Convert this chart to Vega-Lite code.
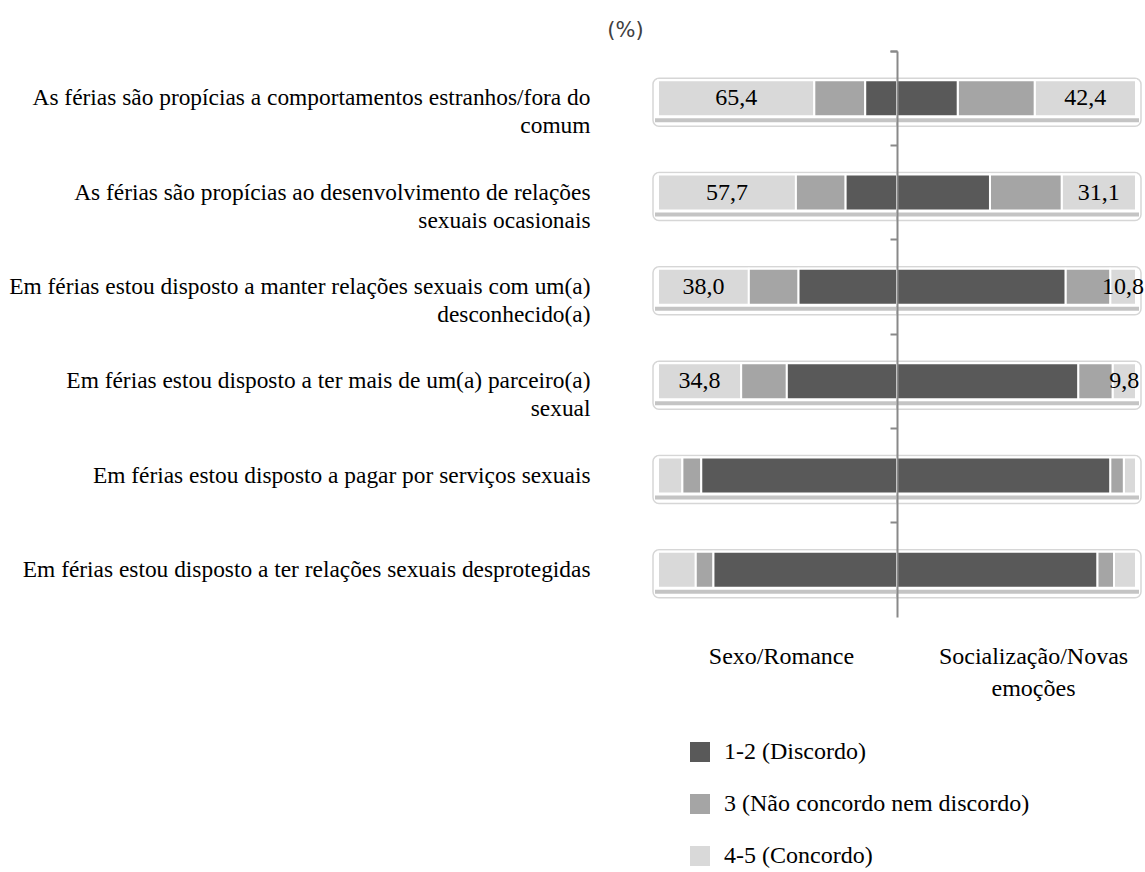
{
  "$schema": "https://vega.github.io/schema/vega-lite/v6.json",
  "background": "white",
  "padding": {"left": 8, "top": 19, "right": 2, "bottom": 0},
  "config": {"view": {"stroke": null}, "font": "Liberation Serif, Times New Roman, serif"},
  "spacing": 0,
  "bounds": "flush",
  "resolve": {"scale": {"x": "independent", "y": "independent"}},
  "data": {"values": [
    {"q": "As férias são propícias a comportamentos estranhos/fora do|comum", "grupo": "S", "resp": "4-5 (Concordo)", "ordem": 3, "pct": 65.4, "rotulo": "65,4"},
    {"q": "As férias são propícias a comportamentos estranhos/fora do|comum", "grupo": "S", "resp": "3 (Não concordo nem discordo)", "ordem": 2, "pct": 21.3, "rotulo": ""},
    {"q": "As férias são propícias a comportamentos estranhos/fora do|comum", "grupo": "S", "resp": "1-2 (Discordo)", "ordem": 1, "pct": 13.3, "rotulo": ""},
    {"q": "As férias são propícias a comportamentos estranhos/fora do|comum", "grupo": "C", "resp": "4-5 (Concordo)", "ordem": 3, "pct": 42.4, "rotulo": "42,4"},
    {"q": "As férias são propícias a comportamentos estranhos/fora do|comum", "grupo": "C", "resp": "3 (Não concordo nem discordo)", "ordem": 2, "pct": 32.2, "rotulo": ""},
    {"q": "As férias são propícias a comportamentos estranhos/fora do|comum", "grupo": "C", "resp": "1-2 (Discordo)", "ordem": 1, "pct": 25.4, "rotulo": ""},
    {"q": "As férias são propícias ao desenvolvimento de relações|sexuais ocasionais", "grupo": "S", "resp": "4-5 (Concordo)", "ordem": 3, "pct": 57.7, "rotulo": "57,7"},
    {"q": "As férias são propícias ao desenvolvimento de relações|sexuais ocasionais", "grupo": "S", "resp": "3 (Não concordo nem discordo)", "ordem": 2, "pct": 20.8, "rotulo": ""},
    {"q": "As férias são propícias ao desenvolvimento de relações|sexuais ocasionais", "grupo": "S", "resp": "1-2 (Discordo)", "ordem": 1, "pct": 21.5, "rotulo": ""},
    {"q": "As férias são propícias ao desenvolvimento de relações|sexuais ocasionais", "grupo": "C", "resp": "4-5 (Concordo)", "ordem": 3, "pct": 31.1, "rotulo": "31,1"},
    {"q": "As férias são propícias ao desenvolvimento de relações|sexuais ocasionais", "grupo": "C", "resp": "3 (Não concordo nem discordo)", "ordem": 2, "pct": 30.0, "rotulo": ""},
    {"q": "As férias são propícias ao desenvolvimento de relações|sexuais ocasionais", "grupo": "C", "resp": "1-2 (Discordo)", "ordem": 1, "pct": 38.9, "rotulo": ""},
    {"q": "Em férias estou disposto a manter relações sexuais com um(a)|desconhecido(a)", "grupo": "S", "resp": "4-5 (Concordo)", "ordem": 3, "pct": 38.0, "rotulo": "38,0"},
    {"q": "Em férias estou disposto a manter relações sexuais com um(a)|desconhecido(a)", "grupo": "S", "resp": "3 (Não concordo nem discordo)", "ordem": 2, "pct": 20.8, "rotulo": ""},
    {"q": "Em férias estou disposto a manter relações sexuais com um(a)|desconhecido(a)", "grupo": "S", "resp": "1-2 (Discordo)", "ordem": 1, "pct": 41.2, "rotulo": ""},
    {"q": "Em férias estou disposto a manter relações sexuais com um(a)|desconhecido(a)", "grupo": "C", "resp": "4-5 (Concordo)", "ordem": 3, "pct": 10.8, "rotulo": "10,8"},
    {"q": "Em férias estou disposto a manter relações sexuais com um(a)|desconhecido(a)", "grupo": "C", "resp": "3 (Não concordo nem discordo)", "ordem": 2, "pct": 18.7, "rotulo": ""},
    {"q": "Em férias estou disposto a manter relações sexuais com um(a)|desconhecido(a)", "grupo": "C", "resp": "1-2 (Discordo)", "ordem": 1, "pct": 70.5, "rotulo": ""},
    {"q": "Em férias estou disposto a ter mais de um(a) parceiro(a)|sexual", "grupo": "S", "resp": "4-5 (Concordo)", "ordem": 3, "pct": 34.8, "rotulo": "34,8"},
    {"q": "Em férias estou disposto a ter mais de um(a) parceiro(a)|sexual", "grupo": "S", "resp": "3 (Não concordo nem discordo)", "ordem": 2, "pct": 19.1, "rotulo": ""},
    {"q": "Em férias estou disposto a ter mais de um(a) parceiro(a)|sexual", "grupo": "S", "resp": "1-2 (Discordo)", "ordem": 1, "pct": 46.1, "rotulo": ""},
    {"q": "Em férias estou disposto a ter mais de um(a) parceiro(a)|sexual", "grupo": "C", "resp": "4-5 (Concordo)", "ordem": 3, "pct": 9.8, "rotulo": "9,8"},
    {"q": "Em férias estou disposto a ter mais de um(a) parceiro(a)|sexual", "grupo": "C", "resp": "3 (Não concordo nem discordo)", "ordem": 2, "pct": 14.4, "rotulo": ""},
    {"q": "Em férias estou disposto a ter mais de um(a) parceiro(a)|sexual", "grupo": "C", "resp": "1-2 (Discordo)", "ordem": 1, "pct": 75.8, "rotulo": ""},
    {"q": "Em férias estou disposto a pagar por serviços sexuais", "grupo": "S", "resp": "4-5 (Concordo)", "ordem": 3, "pct": 10.2, "rotulo": ""},
    {"q": "Em férias estou disposto a pagar por serviços sexuais", "grupo": "S", "resp": "3 (Não concordo nem discordo)", "ordem": 2, "pct": 7.9, "rotulo": ""},
    {"q": "Em férias estou disposto a pagar por serviços sexuais", "grupo": "S", "resp": "1-2 (Discordo)", "ordem": 1, "pct": 81.9, "rotulo": ""},
    {"q": "Em férias estou disposto a pagar por serviços sexuais", "grupo": "C", "resp": "4-5 (Concordo)", "ordem": 3, "pct": 5.1, "rotulo": ""},
    {"q": "Em férias estou disposto a pagar por serviços sexuais", "grupo": "C", "resp": "3 (Não concordo nem discordo)", "ordem": 2, "pct": 5.7, "rotulo": ""},
    {"q": "Em férias estou disposto a pagar por serviços sexuais", "grupo": "C", "resp": "1-2 (Discordo)", "ordem": 1, "pct": 89.2, "rotulo": ""},
    {"q": "Em férias estou disposto a ter relações sexuais desprotegidas", "grupo": "S", "resp": "4-5 (Concordo)", "ordem": 3, "pct": 15.8, "rotulo": ""},
    {"q": "Em férias estou disposto a ter relações sexuais desprotegidas", "grupo": "S", "resp": "3 (Não concordo nem discordo)", "ordem": 2, "pct": 7.4, "rotulo": ""},
    {"q": "Em férias estou disposto a ter relações sexuais desprotegidas", "grupo": "S", "resp": "1-2 (Discordo)", "ordem": 1, "pct": 76.8, "rotulo": ""},
    {"q": "Em férias estou disposto a ter relações sexuais desprotegidas", "grupo": "C", "resp": "4-5 (Concordo)", "ordem": 3, "pct": 9.2, "rotulo": ""},
    {"q": "Em férias estou disposto a ter relações sexuais desprotegidas", "grupo": "C", "resp": "3 (Não concordo nem discordo)", "ordem": 2, "pct": 7.0, "rotulo": ""},
    {"q": "Em férias estou disposto a ter relações sexuais desprotegidas", "grupo": "C", "resp": "1-2 (Discordo)", "ordem": 1, "pct": 83.8, "rotulo": ""}
  ]},
  "hconcat": [
    {
      "width": 239,
      "height": 566,
      "transform": [{"filter": "datum.grupo == 'S'"}],
      "encoding": {
        "y": {
          "field": "q", "type": "nominal",
          "sort": [
            "As férias são propícias a comportamentos estranhos/fora do|comum",
            "As férias são propícias ao desenvolvimento de relações|sexuais ocasionais",
            "Em férias estou disposto a manter relações sexuais com um(a)|desconhecido(a)",
            "Em férias estou disposto a ter mais de um(a) parceiro(a)|sexual",
            "Em férias estou disposto a pagar por serviços sexuais",
            "Em férias estou disposto a ter relações sexuais desprotegidas"
          ],
          "scale": {"paddingInner": 0, "paddingOuter": 0},
          "axis": {
            "title": null, "domain": false, "ticks": false,
            "labelExpr": "split(datum.value, '|')",
            "labelFont": "Liberation Serif, Times New Roman, serif", "labelFontSize": 23.4, "labelColor": "#000000",
            "labelPadding": 68, "labelLimit": 800, "labelLineHeight": 28
          }
        }
      },
      "layer": [
        {
          "transform": [{"filter": "datum.ordem == 1"}],
          "mark": {"type": "bar", "height": 48, "yOffset": 4, "xOffset": -5, "fill": "white", "stroke": "#d6d6d6", "strokeWidth": 1.5, "cornerRadiusTopLeft": 6, "cornerRadiusBottomLeft": 6},
          "encoding": {
            "x": {"datum": 100, "type": "quantitative", "scale": {"domain": [0, 100], "reverse": true, "nice": false, "zero": true},
                  "axis": {"title": "Sexo/Romance", "labels": false, "ticks": false, "domain": false, "grid": false, "titleFont": "Liberation Serif, Times New Roman, serif", "titleFontSize": 24, "titleFontWeight": "normal", "titleColor": "#000000", "titlePadding": 27, "titleX": 123}},
            "x2": {"datum": 0}
          }
        },
        {
          "transform": [{"filter": "datum.ordem == 1"}],
          "mark": {"type": "bar", "height": 4, "yOffset": 22, "xOffset": -3, "fill": "#c4c4c4"},
          "encoding": {
            "x": {"datum": 100, "type": "quantitative", "scale": {"domain": [0, 100], "reverse": true, "nice": false, "zero": true},
                  "axis": {"title": "Sexo/Romance", "labels": false, "ticks": false, "domain": false, "grid": false, "titleFont": "Liberation Serif, Times New Roman, serif", "titleFontSize": 24, "titleFontWeight": "normal", "titleColor": "#000000", "titlePadding": 27, "titleX": 123}},
            "x2": {"datum": 0}
          }
        },
        {
          "mark": {"type": "bar", "height": 36, "stroke": "white", "strokeWidth": 2},
          "encoding": {
            "x": {"field": "pct", "type": "quantitative", "stack": "zero", "scale": {"domain": [0, 100], "reverse": true, "nice": false, "zero": true},
                  "axis": {"title": "Sexo/Romance", "labels": false, "ticks": false, "domain": false, "grid": false, "titleFont": "Liberation Serif, Times New Roman, serif", "titleFontSize": 24, "titleFontWeight": "normal", "titleColor": "#000000", "titlePadding": 27, "titleX": 123}},
            "color": {"field": "resp", "type": "nominal",
              "scale": {"domain": ["1-2 (Discordo)", "3 (Não concordo nem discordo)", "4-5 (Concordo)"], "range": ["#595959", "#a5a5a5", "#d9d9d9"]},
              "legend": {"orient": "none", "legendX": 30, "legendY": 689, "title": null, "symbolType": "square", "symbolSize": 400, "symbolStrokeWidth": 0, "labelFont": "Liberation Serif, Times New Roman, serif", "labelFontSize": 24, "labelColor": "#000000", "labelOffset": 12, "rowPadding": 28, "labelLimit": 500, "padding": 0}},
            "order": {"field": "ordem", "type": "quantitative"}
          }
        },
        {
          "mark": {"type": "text", "font": "Liberation Serif, Times New Roman, serif", "fontSize": 24, "color": "#000000", "baseline": "middle"},
          "encoding": {
            "x": {"field": "pct", "type": "quantitative", "stack": "zero", "bandPosition": 0.5, "scale": {"domain": [0, 100], "reverse": true, "nice": false, "zero": true},
                  "axis": {"title": "Sexo/Romance", "labels": false, "ticks": false, "domain": false, "grid": false, "titleFont": "Liberation Serif, Times New Roman, serif", "titleFontSize": 24, "titleFontWeight": "normal", "titleColor": "#000000", "titlePadding": 27, "titleX": 123}},
            "detail": {"field": "resp"},
            "order": {"field": "ordem", "type": "quantitative"},
            "text": {"field": "rotulo"}
          }
        }
      ]
    },
    {
      "width": 239,
      "height": 566,
      "transform": [{"filter": "datum.grupo == 'C'"}],
      "encoding": {
        "y": {
          "field": "q", "type": "nominal",
          "sort": [
            "As férias são propícias a comportamentos estranhos/fora do|comum",
            "As férias são propícias ao desenvolvimento de relações|sexuais ocasionais",
            "Em férias estou disposto a manter relações sexuais com um(a)|desconhecido(a)",
            "Em férias estou disposto a ter mais de um(a) parceiro(a)|sexual",
            "Em férias estou disposto a pagar por serviços sexuais",
            "Em férias estou disposto a ter relações sexuais desprotegidas"
          ],
          "scale": {"paddingInner": 0, "paddingOuter": 0},
          "axis": {
            "title": "(%)", "labels": false, "domain": true, "domainColor": "#898989", "domainWidth": 2,
            "ticks": true, "tickColor": "#898989", "tickWidth": 2, "tickSize": 7, "bandPosition": 0, "tickExtra": true,
            "zindex": 1, "titleAngle": 0, "titleX": -272, "titleY": -21, "titleAlign": "center", "titleBaseline": "middle",
            "titleFont": "DejaVu Sans", "titleFontSize": 21, "titleFontWeight": "normal", "titleColor": "#404040"
          }
        }
      },
      "layer": [
        {
          "transform": [{"filter": "datum.ordem == 1"}],
          "mark": {"type": "bar", "height": 48, "yOffset": 4, "x2Offset": 5, "fill": "white", "stroke": "#d6d6d6", "strokeWidth": 1.5, "cornerRadiusTopRight": 6, "cornerRadiusBottomRight": 6},
          "encoding": {
            "x": {"datum": 0, "type": "quantitative", "scale": {"domain": [0, 100], "nice": false, "zero": true},
                  "axis": {"title": ["Socialização/Novas", "emoções"], "labels": false, "ticks": false, "domain": false, "grid": false, "titleFont": "Liberation Serif, Times New Roman, serif", "titleFontSize": 24, "titleFontWeight": "normal", "titleColor": "#000000", "titlePadding": 27, "titleX": 136, "titleLineHeight": 32}},
            "x2": {"datum": 100}
          }
        },
        {
          "transform": [{"filter": "datum.ordem == 1"}],
          "mark": {"type": "bar", "height": 4, "yOffset": 22, "x2Offset": 3, "fill": "#c4c4c4"},
          "encoding": {
            "x": {"datum": 0, "type": "quantitative", "scale": {"domain": [0, 100], "nice": false, "zero": true},
                  "axis": {"title": ["Socialização/Novas", "emoções"], "labels": false, "ticks": false, "domain": false, "grid": false, "titleFont": "Liberation Serif, Times New Roman, serif", "titleFontSize": 24, "titleFontWeight": "normal", "titleColor": "#000000", "titlePadding": 27, "titleX": 136, "titleLineHeight": 32}},
            "x2": {"datum": 100}
          }
        },
        {
          "mark": {"type": "bar", "height": 36, "stroke": "white", "strokeWidth": 2},
          "encoding": {
            "x": {"field": "pct", "type": "quantitative", "stack": "zero", "scale": {"domain": [0, 100], "nice": false, "zero": true},
                  "axis": {"title": ["Socialização/Novas", "emoções"], "labels": false, "ticks": false, "domain": false, "grid": false, "titleFont": "Liberation Serif, Times New Roman, serif", "titleFontSize": 24, "titleFontWeight": "normal", "titleColor": "#000000", "titlePadding": 27, "titleX": 136, "titleLineHeight": 32}},
            "color": {"field": "resp", "type": "nominal",
              "scale": {"domain": ["1-2 (Discordo)", "3 (Não concordo nem discordo)", "4-5 (Concordo)"], "range": ["#595959", "#a5a5a5", "#d9d9d9"]},
              "legend": {"orient": "none", "legendX": 30, "legendY": 689, "title": null, "symbolType": "square", "symbolSize": 400, "symbolStrokeWidth": 0, "labelFont": "Liberation Serif, Times New Roman, serif", "labelFontSize": 24, "labelColor": "#000000", "labelOffset": 12, "rowPadding": 28, "labelLimit": 500, "padding": 0}},
            "order": {"field": "ordem", "type": "quantitative"}
          }
        },
        {
          "mark": {"type": "text", "font": "Liberation Serif, Times New Roman, serif", "fontSize": 24, "color": "#000000", "baseline": "middle"},
          "encoding": {
            "x": {"field": "pct", "type": "quantitative", "stack": "zero", "bandPosition": 0.5, "scale": {"domain": [0, 100], "nice": false, "zero": true},
                  "axis": {"title": ["Socialização/Novas", "emoções"], "labels": false, "ticks": false, "domain": false, "grid": false, "titleFont": "Liberation Serif, Times New Roman, serif", "titleFontSize": 24, "titleFontWeight": "normal", "titleColor": "#000000", "titlePadding": 27, "titleX": 136, "titleLineHeight": 32}},
            "detail": {"field": "resp"},
            "order": {"field": "ordem", "type": "quantitative"},
            "text": {"field": "rotulo"}
          }
        }
      ]
    }
  ]
}
